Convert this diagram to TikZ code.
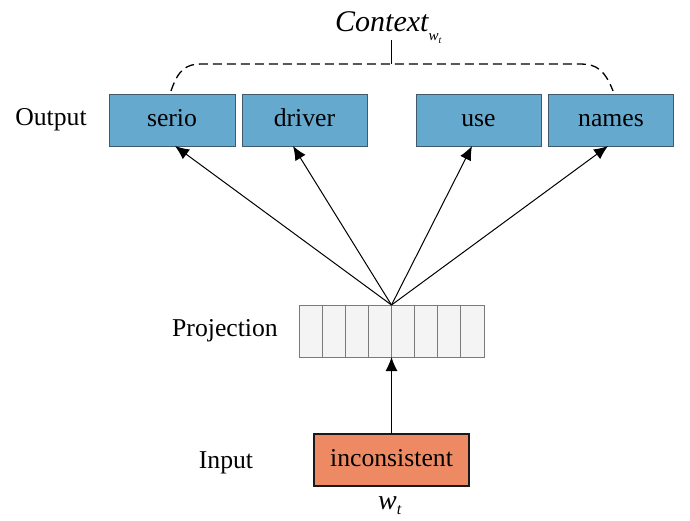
\documentclass[tikz,border=0pt]{standalone}
\usepackage{fontspec}
\setmainfont{Liberation Serif}
\usetikzlibrary{arrows.meta,calc}

\definecolor{wordblue}{HTML}{65A9CE}
\definecolor{wordedge}{HTML}{3E5A6C}
\definecolor{inputfill}{HTML}{EE8A63}
\definecolor{cellfill}{HTML}{F4F4F4}
\definecolor{celledge}{HTML}{7A7A7A}

\tikzset{
  wordbox/.style={draw=wordedge, fill=wordblue, line width=1pt,
    minimum width=125pt, minimum height=52pt, inner sep=0pt, outer sep=0pt,
    text height=17.5pt, text depth=5.5pt,
    font=\fontsize{25.7}{30}\selectfont},
  inbox/.style={draw=black!90, fill=inputfill, line width=2pt,
    minimum width=155pt, minimum height=52pt, inner sep=0pt, outer sep=0pt,
    text height=17.5pt, text depth=5.5pt,
    font=\fontsize{25.7}{30}\selectfont},
  projbox/.style={draw=celledge, fill=cellfill, line width=0.8pt,
    minimum width=185pt, minimum height=52pt, inner sep=0pt, outer sep=0pt},
  rowlabel/.style={font=\fontsize{25.7}{30}\selectfont},
  feed/.style={line width=1pt, -{Latex[length=14pt,width=12pt]}},
  bracket/.style={line width=1.3pt, dash pattern=on 9pt off 5pt},
}

\begin{document}
\begin{tikzpicture}[x=1pt,y=1pt]
  \useasboundingbox (0,0) rectangle (690,-520);

  % output words
  \node[wordbox, minimum width=126pt] (serio) at (172,-120) {serio};
  \node[wordbox] (driver) at (304.5,-120) {driver};
  \node[wordbox] (use) at (478.5,-120) {use};
  \node[wordbox] (names) at (611,-120) {names};

  % projection layer with eight cells
  \node[projbox] (proj) at (391.5,-331) {};
  \foreach \i in {1,...,7}{
    \draw[celledge, line width=0.8pt]
      ($(proj.north west)+(\i*23.125,0)$) -- ($(proj.south west)+(\i*23.125,0)$);
  }

  % input word
  \node[inbox] (inp) at (391.5,-460) {inconsistent};

  % row labels
  \node[rowlabel] (lout) at (51,-120) {Output};
  \node[rowlabel] (lproj) at (225,-331) {Projection};
  \node[rowlabel] (lin) at (226,-463) {Input};

  % word symbols
  \node[anchor=base west, inner sep=0pt] (ctx) at (335,-31)
    {\fontsize{30}{34}\selectfont\itshape Context\raisebox{-0.32em}{\fontsize{15}{17}\selectfont w\raisebox{-0.22em}{\fontsize{10}{11}\selectfont t}}};
  \node[anchor=base west, inner sep=0pt] (wt) at (378,-509)
    {\fontsize{28}{32}\selectfont\itshape w\raisebox{-0.2em}{\fontsize{16}{18}\selectfont t}};

  % arrow end points on the output boxes
  \coordinate (apex) at (proj.north);
  \coordinate (tS) at ([xshift=3pt]serio.south);
  \coordinate (tD) at ([xshift=-11.5pt]driver.south);
  \coordinate (tU) at ([xshift=-6.5pt]use.south);
  \coordinate (tN) at ([xshift=-3pt]names.south);

  \draw[feed] (apex) -- (tS);
  \draw[feed] (apex) -- (tD);
  \draw[feed] (apex) -- (tU);
  \draw[feed] (apex) -- (tN);
  \draw[feed] (inp.north) -- (proj.south);

  % context bracket
  \coordinate (bl) at (171,-91);
  \coordinate (br) at (613,-91);
  \coordinate (bm) at (391,-64);
  \coordinate (bt) at (391,-40);
  \draw[bracket] (bl) .. controls (178,-70) and (186,-64) .. (201,-64)
    -- (581,-64) .. controls (596,-64) and (605,-70) .. (br);
  \draw[line width=1pt] (bt) -- (bm);
\end{tikzpicture}
\end{document}
